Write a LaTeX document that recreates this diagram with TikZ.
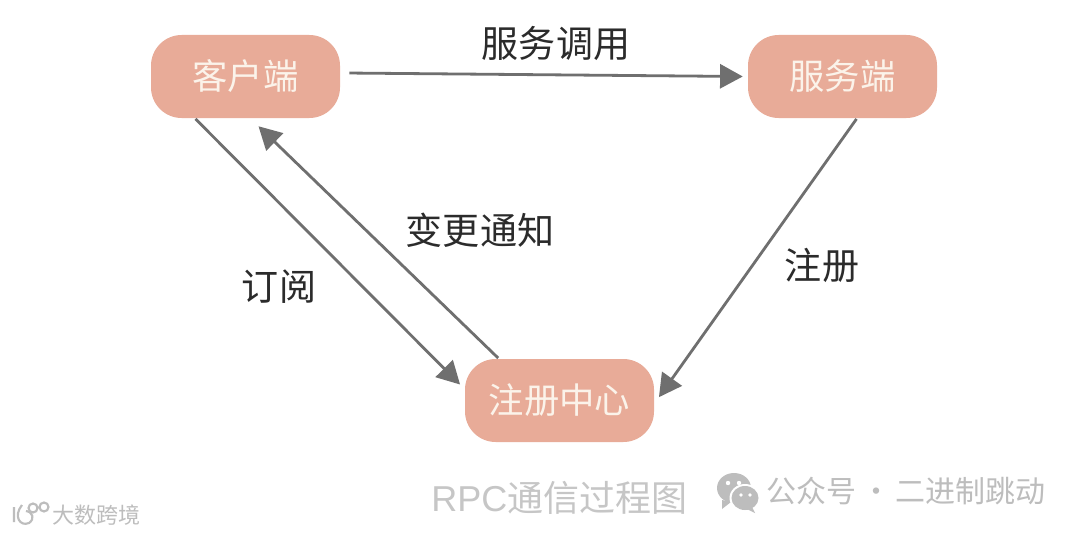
\documentclass[tikz,border=0pt]{standalone}
\usepackage{fontspec}
\setmainfont{Liberation Sans}
\newfontfamily\cjk{Noto Sans CJK SC}
\usetikzlibrary{arrows.meta}
\definecolor{boxfill}{HTML}{E8AB98}
\definecolor{boxtext}{HTML}{FBF3EA}
\definecolor{linegrey}{HTML}{6F6F6F}
\definecolor{inkc}{HTML}{2B2B2B}
\definecolor{markc}{HTML}{C6C6C6}
\definecolor{markd}{HTML}{BDBDBD}
\tikzset{
  box/.style={rectangle,rounded corners=23pt,fill=boxfill,text=boxtext,minimum width=141.75pt,minimum height=62.25pt,inner sep=0pt,font=\cjk\fontsize{26.5pt}{30pt}\selectfont},
  arr/.style={draw=linegrey,line width=2.1pt,-{Triangle[length=17pt,width=18pt,fill=linegrey]}},
  lab/.style={text=inkc,inner sep=0pt,font=\cjk\fontsize{27.8pt}{30pt}\selectfont},
  wm/.style={text=markc,inner sep=0pt},
}
\begin{document}
\begin{tikzpicture}[x=0.75pt,y=-0.75pt]
\useasboundingbox (0,0) rectangle (1080,535);
\fill[white] (0,0) rectangle (1080,535);
\node[box] (client) at (245.5,76.5) {客户端};
\node[box] (server) at (842.5,76.5) {服务端};
\node[box] (registry) at (559.5,400.5) {注册中心};
\draw[arr] ([xshift=6.75pt,yshift=2.6pt]client.east) -- ([xshift=-3.75pt,yshift=0pt]server.west);
\draw[arr] ([xshift=-37.5pt,yshift=-0.5pt]client.south) -- ([xshift=-3.5pt,yshift=12pt]registry.west);
\draw[arr] ([xshift=-46pt,yshift=0.5pt]registry.north) -- ([xshift=9.75pt,yshift=-6pt]client.south);
\draw[arr] ([xshift=10.5pt,yshift=-0.5pt]server.south) -- ([xshift=3.5pt,yshift=2.5pt]registry.east);
\node[lab] (call) at (556,43) {服务调用};
\node[lab] (notify) at (480,230) {变更通知};
\node[lab] (sub) at (279,287) {订阅};
\node[lab] (reg) at (822,265) {注册};
\node[wm,anchor=west] (title) at (431,498) {\fontsize{27pt}{30pt}\selectfont RPC\cjk 通信过程图};
\node[wm,anchor=west,text=markd] (account) at (766,491) {\cjk\fontsize{22.5pt}{26pt}\selectfont 公众号\hspace{4pt}·\hspace{3pt}二进制跳动};
\node[wm,anchor=west,text=markd] (brand) at (52,515) {\cjk\fontsize{16.5pt}{20pt}\selectfont 大数跨境};
% WeChat icon
\fill[markd] (734,488) ellipse [x radius=17,y radius=15];
\fill[markd] (722,500) -- (722,509) -- (731,502) -- cycle;
\fill[white] (745,498) ellipse [x radius=15.5,y radius=14];
\fill[markd] (745,498) ellipse [x radius=13.5,y radius=12];
\fill[markd] (752,507) -- (755,513) -- (745,508) -- cycle;
\fill[white] (728,483) circle (2.2) (739,483) circle (2.2) (741,495) circle (1.8) (750,495) circle (1.8);
% Brand logo
\draw[markd,line width=1.6pt] (14,507) -- (14,522) (22,505) .. controls (13,516) and (20,527) .. (29,523) .. controls (35,519) and (33,512) .. (26,511);
\draw[markd,line width=1.6pt] (33,508) circle (4.5) (44,507) circle (4.5);
\end{tikzpicture}
\end{document}
